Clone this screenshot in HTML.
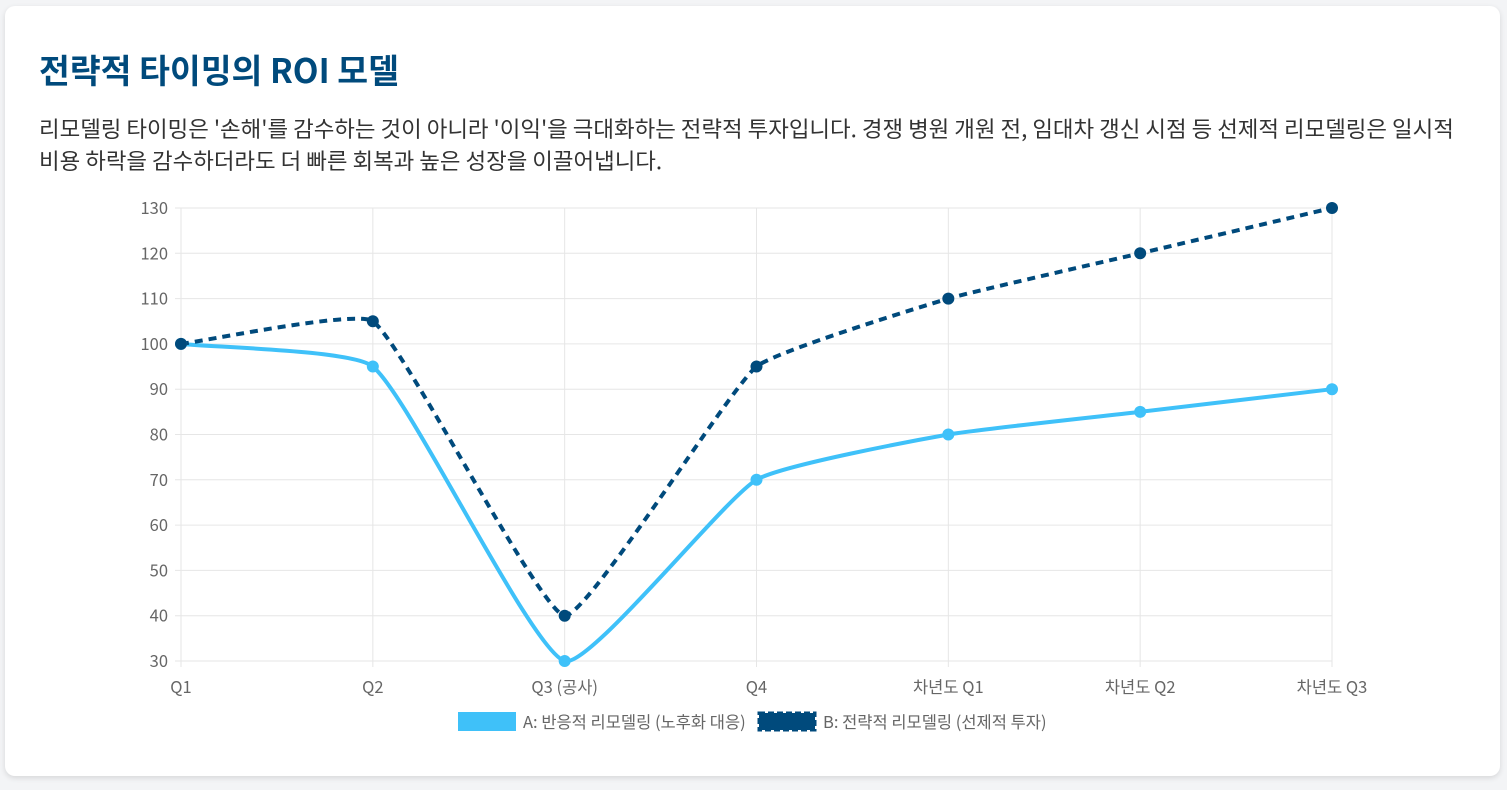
<!DOCTYPE html>
<html><head><meta charset="utf-8"><style>
body{margin:0;background:#f3f4f6;width:1507px;height:790px;overflow:hidden;font-family:"Noto Sans CJK KR","Liberation Sans",sans-serif}
.card{position:absolute;left:5px;top:6px;width:1495px;height:770px;background:#fff;border-radius:10px;box-shadow:0 2px 6px rgba(0,0,0,.12)}
h1{position:absolute;left:34px;top:38px;margin:0;font-size:33.5px;font-weight:bold;color:#004a7c;font-family:"Noto Sans CJK KR","Liberation Sans",sans-serif;white-space:nowrap}
p{position:absolute;left:34px;top:106px;margin:0;width:1460px;font-size:22.4px;line-height:32px;color:#333;white-space:nowrap}
svg{position:absolute;left:0;top:0;font-family:"Noto Sans CJK KR","Liberation Sans",sans-serif}
</style></head><body>
<div class="card">
<h1>전략적 타이밍의 ROI 모델</h1>
<p>리모델링 타이밍은 '손해'를 감수하는 것이 아니라 '이익'을 극대화하는 전략적 투자입니다. 경쟁 병원 개원 전, 임대차 갱신 시점 등 선제적 리모델링은 일시적<br>비용 하락을 감수하더라도 더 빠른 회복과 높은 성장을 이끌어냅니다.</p>
</div>
<svg id="c" width="1507" height="790"></svg>
<script>
const categories=["Q1","Q2","Q3 (공사)","Q4","차년도 Q1","차년도 Q2","차년도 Q3"];
const seriesA=[100,95,30,70,80,85,90];
const seriesB=[100,105,40,95,110,120,130];
const yTicks=[30,40,50,60,70,80,90,100,110,120,130];
const labelA="A: 반응적 리모델링 (노후화 대응)";
const labelB="B: 전략적 리모델링 (선제적 투자)";
const NS="http://www.w3.org/2000/svg";
const svg=document.getElementById('c');
const X0=181,X1=1332,Y0=661,Y1=208,yMin=30,yMax=130;
const xs=i=>X0+(X1-X0)*i/(categories.length-1);
const ys=v=>Y0-(v-yMin)/(yMax-yMin)*(Y0-Y1);
function el(t,a,txt){const e=document.createElementNS(NS,t);for(const k in a)e.setAttribute(k,a[k]);if(txt!=null)e.textContent=txt;svg.appendChild(e);return e;}
yTicks.forEach(v=>{
 const g=el('line',{x1:X0-6,x2:X1,y1:ys(v),y2:ys(v),stroke:'#e6e6e6','stroke-width':1});
 
 
 const t=el('text',{x:X0-13,y:ys(v)+6,'text-anchor':'end','font-size':16.5,fill:'#666'},v);
 
 
});
categories.forEach((c,i)=>{
 const g=el('line',{x1:xs(i),x2:xs(i),y1:Y1,y2:Y0+6,stroke:'#e6e6e6','stroke-width':1});
 
 
 const t=el('text',{x:xs(i),y:Y0+32,'text-anchor':'middle','font-size':16.5,fill:'#666'},c);
 
 
});
function spline(vals,tension){
 const p=vals.map((v,i)=>({x:xs(i),y:ys(v)}));
 let d=`M${p[0].x},${p[0].y}`;
 const cp=p.map((c,i)=>{
  const pr=p[i-1]||c,nx=p[i+1]||c;
  const d01=Math.hypot(c.x-pr.x,c.y-pr.y),d12=Math.hypot(nx.x-c.x,nx.y-c.y);
  let s01=d01/(d01+d12),s12=d12/(d01+d12);if(isNaN(s01))s01=0;if(isNaN(s12))s12=0;
  const fa=tension*s01,fb=tension*s12;
  return {px:c.x-fa*(nx.x-pr.x),py:c.y-fa*(nx.y-pr.y),nx:c.x+fb*(nx.x-pr.x),ny:c.y+fb*(nx.y-pr.y)};
 });
 for(let i=1;i<p.length;i++){
  d+=` C${cp[i-1].nx},${cp[i-1].ny} ${cp[i].px},${cp[i].py} ${p[i].x},${p[i].y}`;
 }
 return d;
}
const la=el('path',{d:spline(seriesA,0.15),fill:'none',stroke:'#3fc1f9','stroke-width':4});


const lb=el('path',{d:spline(seriesB,0.12),fill:'none',stroke:'#004a7c','stroke-width':4,'stroke-dasharray':'8 6'});


seriesA.forEach((v,i)=>{const c=el('circle',{cx:xs(i),cy:ys(v),r:6,fill:'#3fc1f9'});
 
 });
seriesB.forEach((v,i)=>{const c=el('circle',{cx:xs(i),cy:ys(v),r:6,fill:'#004a7c'});
 
 });
const ba=el('rect',{x:458,y:712,width:58,height:19,fill:'#3fc1f9'});


const ta=el('text',{x:523,y:728,'font-size':16.5,fill:'#666'},labelA);


const bb=el('rect',{x:759,y:713,width:56,height:17,fill:'#004a7c',stroke:'#004a7c','stroke-width':3,'stroke-dasharray':'6 3'});


const tb=el('text',{x:823,y:728,'font-size':16.5,fill:'#666'},labelB);


</script>
</body></html>
